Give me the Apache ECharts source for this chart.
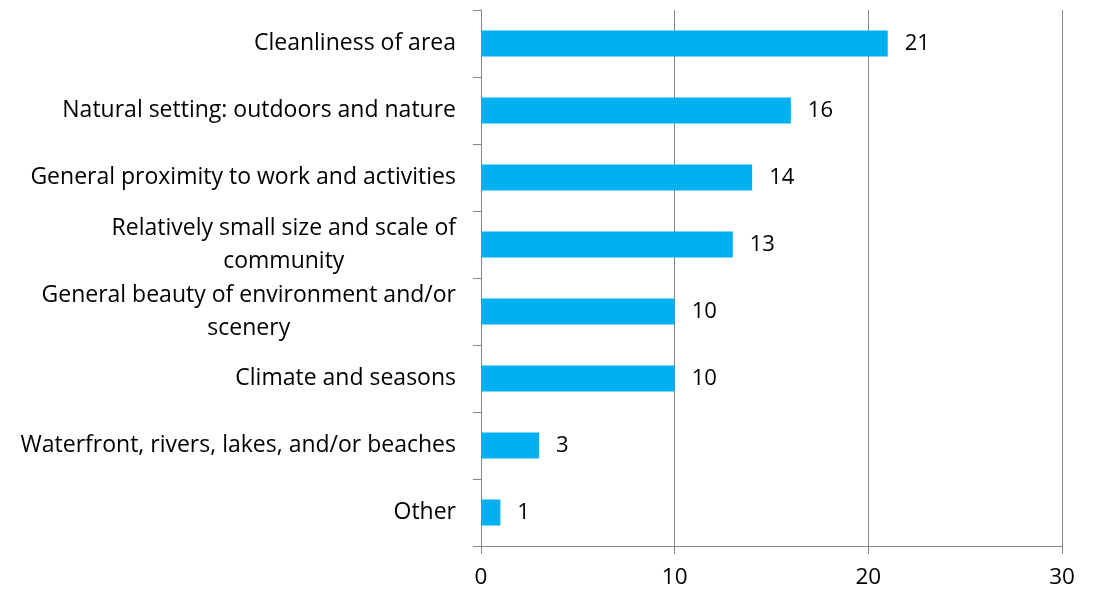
<!DOCTYPE html>
<html><head><meta charset="utf-8">
<script src="https://cdn.jsdelivr.net/npm/echarts@6/dist/echarts.min.js"></script>
<style>html,body{margin:0;padding:0;background:#fff}#c{width:1093px;height:594px}</style>
</head><body><div id="c"></div>
<script>
const categories = [
  "Cleanliness of area",
  "Natural setting: outdoors and nature",
  "General proximity to work and activities",
  "Relatively small size and scale of\ncommunity",
  "General beauty of environment and/or\nscenery",
  "Climate and seasons",
  "Waterfront, rivers, lakes, and/or beaches",
  "Other"
];
const values = [21, 16, 14, 13, 10, 10, 3, 1];
const xTicks = { min: 0, max: 30, interval: 10 };

const FONT = "'Open Sans', 'Liberation Sans', sans-serif";
const chart = echarts.init(document.getElementById('c'), null, {renderer: 'canvas'});
chart.setOption({
  animation: false,
  grid: { left: 481, right: 31, top: 10, bottom: 48, containLabel: false },
  xAxis: {
    type: 'value', min: xTicks.min, max: xTicks.max, interval: xTicks.interval,
    axisLine: { show: true, lineStyle: { color: '#868686', width: 1 } },
    axisTick: { show: true, length: 8, lineStyle: { color: '#868686' } },
    splitLine: { show: true, lineStyle: { color: '#868686', width: 1 } },
    axisLabel: { color: '#000', fontSize: 22.5, fontFamily: FONT, margin: 20 }
  },
  yAxis: {
    type: 'category', data: categories, inverse: true,
    axisLine: { show: true, lineStyle: { color: '#868686', width: 1 } },
    axisTick: { show: true, length: 8, alignWithLabel: false, lineStyle: { color: '#868686' } },
    axisLabel: {
      color: '#000', fontSize: 23, fontFamily: FONT, margin: 25, lineHeight: 33,
      formatter: v => v.split('\n').map(s => '{a|' + s + '}').join('\n'),
      rich: { a: { align: 'center', fontSize: 23, fontFamily: FONT, color: '#000', lineHeight: 33 } }
    }
  },
  series: [{
    type: 'bar', data: values, barWidth: 26,
    itemStyle: { color: '#00B0F0' },
    label: { show: true, position: 'right', distance: 17, color: '#000', fontSize: 22, fontFamily: FONT }
  }]
});
</script></body></html>
